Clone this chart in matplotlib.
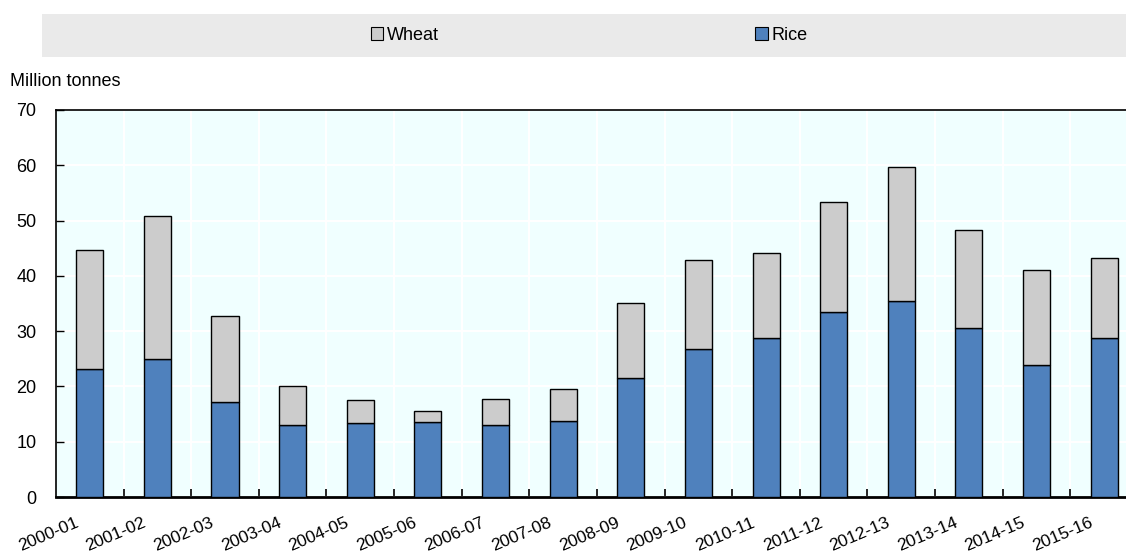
import matplotlib.pyplot as plt
from matplotlib.patches import Rectangle, Patch

plt.rcParams['font.family'] = ['Liberation Sans', 'DejaVu Sans']

years = ['2000-01', '2001-02', '2002-03', '2003-04', '2004-05', '2005-06', '2006-07', '2007-08',
         '2008-09', '2009-10', '2010-11', '2011-12', '2012-13', '2013-14', '2014-15', '2015-16']
rice = [23.2, 25.0, 17.2, 13.1, 13.4, 13.6, 13.0, 13.7,
        21.6, 26.8, 28.8, 33.4, 35.5, 30.5, 23.8, 28.8]
wheat = [21.5, 25.9, 15.6, 6.9, 4.1, 1.9, 4.7, 5.8,
         13.5, 16.0, 15.4, 19.9, 24.2, 17.8, 17.2, 14.5]

rice_col = '#4F81BD'
wheat_col = '#CCCCCC'

fig = plt.figure(figsize=(11.26, 5.56), dpi=100)

# legend band
fig.patches.append(Rectangle((42 / 1126, 1 - 57 / 556), 1 - 42 / 1126, 43 / 556,
                             transform=fig.transFigure, facecolor='#EAEAEA', edgecolor='none'))

ax = fig.add_axes([55.9 / 1126, 1 - 497 / 556, (1138 - 55.9) / 1126, 387 / 556])
ax.set_facecolor('#F0FFFF')

x = range(len(years))
ax.bar(x, rice, width=0.4, color=rice_col, edgecolor='black', linewidth=1, zorder=3)
ax.bar(x, wheat, width=0.4, bottom=rice, color=wheat_col, edgecolor='black', linewidth=1, zorder=3)

ax.set_xlim(-0.5, len(years) - 0.5)
ax.set_ylim(0, 70)
ax.set_yticks(range(0, 71, 10))
# labels sit a bit left of the bar centre, like the original
ax.set_xticks([i - 0.22 for i in x])
ax.set_xticks([i + 0.5 for i in x], minor=True)
ax.set_xticklabels(years, rotation=23, ha='right', rotation_mode='anchor', fontsize=12.5)
ax.tick_params(axis='x', which='major', length=0, pad=13)
ax.tick_params(axis='x', which='minor', direction='in', length=6, width=1.2, color='black')
ax.tick_params(axis='y', direction='in', length=6, width=1, labelsize=13, pad=14)

ax.grid(axis='y', color='white', linewidth=1.5, zorder=0)
ax.grid(axis='x', which='minor', color='white', linewidth=1.5, zorder=0)
ax.set_axisbelow(True)

for s in ['left', 'top', 'right']:
    ax.spines[s].set_linewidth(1.2)
ax.spines['bottom'].set_linewidth(2)

fig.text(10 / 1126, 1 - 82 / 556, 'Million tonnes', fontsize=13, va='center', ha='left')

handles = [Patch(facecolor=wheat_col, edgecolor='black', linewidth=0.8, label='Wheat'),
           Patch(facecolor=rice_col, edgecolor='black', linewidth=0.8, label='Rice')]
fig.legend(handles=handles, loc='center', bbox_to_anchor=(589 / 1126, 1 - 35.5 / 556),
           ncol=2, frameon=False, fontsize=13, handlelength=0.7, handleheight=0.7,
           handletextpad=0.2, columnspacing=17.5)

fig.savefig('out.png', dpi=100)
